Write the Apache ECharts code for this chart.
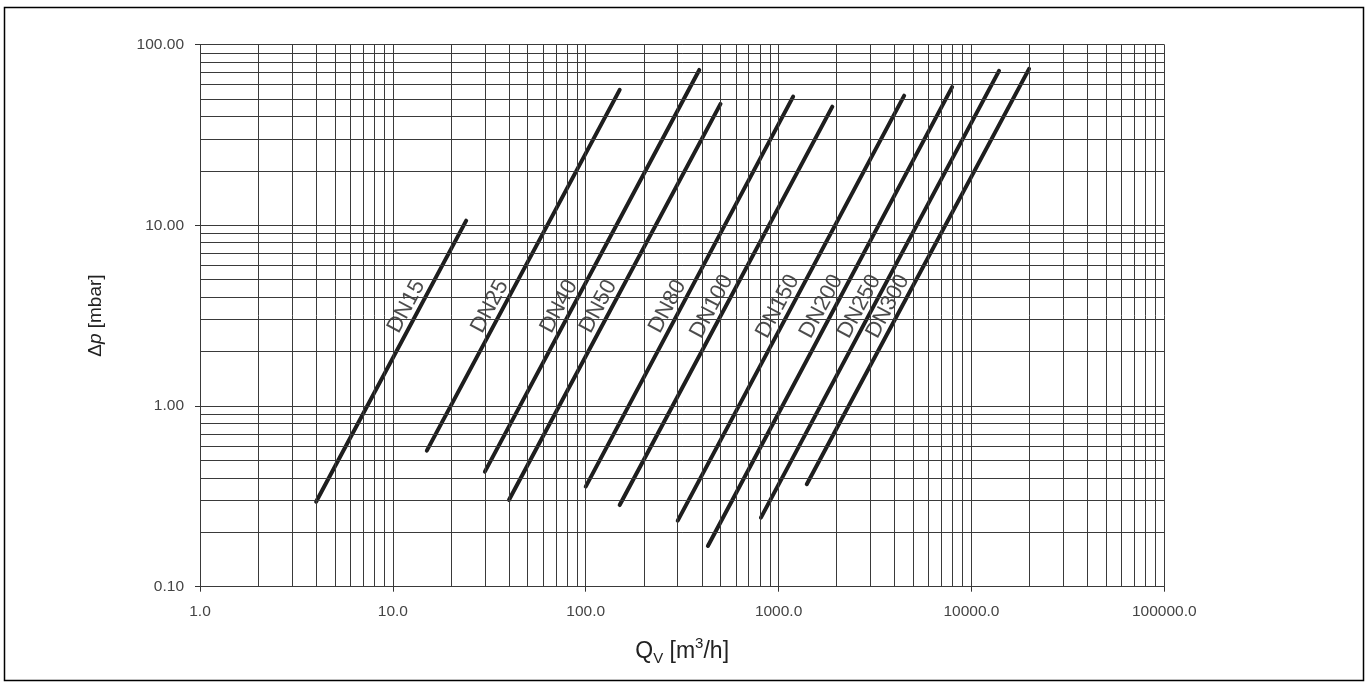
<!DOCTYPE html>
<html>
<head>
<meta charset="utf-8">
<script src="https://cdn.jsdelivr.net/npm/echarts@6/dist/echarts.min.js"></script>
<style>
html,body{margin:0;padding:0;background:#fff;}
#chart{width:1372px;height:688px;}
</style>
</head>
<body>
<div id="chart"></div>
<script>
// ---- data ----
const names   = ['DN15','DN25','DN40','DN50','DN80','DN100','DN150','DN200','DN250','DN300'];
const qStart  = [4,    15,    30,    40,    100,   150,   300,   430,   810,   1400];
const dpStart = [0.295,0.566, 0.433, 0.302, 0.358, 0.283, 0.232, 0.168, 0.241, 0.369];
const qEnd    = [24,   150,   388,   500,   1190,  1900,  4480,  7940,  13900, 19900];
const dpEnd   = [10.6, 56.1,  72.3,  46.9,  51.5,  45.3,  52.1,  58.1,  71.5,  73.3];
const xDecades = [1, 10, 100, 1000, 10000];
const yDecades = [0.1, 1, 10];
const mantissas = [1,2,3,4,5,6,7,8,9];
const labelDp = 3.55;

const FONT = '"Liberation Sans", Arial, Helvetica, sans-serif';
const GRID_COLOR = '#3a3a3a';

const gridX = [];
xDecades.forEach(d => mantissas.forEach(m => gridX.push(+(m*d).toPrecision(6))));
gridX.push(100000);
const gridY = [];
yDecades.forEach(d => mantissas.forEach(m => gridY.push(+(m*d).toPrecision(6))));
gridY.push(100);

const lineSeries = names.map((n, i) => ({
  name: n,
  type: 'line',
  data: [[qStart[i], dpStart[i]], [qEnd[i], dpEnd[i]]],
  symbol: 'none',
  z: 4,
  lineStyle: { color: '#1e1e1e', width: 4, cap: 'round' },
  silent: true,
  animation: false
}));

// label anchors along each line (slightly to the upper-left of it)
const labelData = names.map((n, i) => {
  const lqs = Math.log10(qStart[i]), lqe = Math.log10(qEnd[i]);
  const lds = Math.log10(dpStart[i]), lde = Math.log10(dpEnd[i]);
  const lq = lqs + (Math.log10(labelDp) - lds) * (lqe - lqs) / (lde - lds);
  return [Math.pow(10, lq) * 0.846, labelDp, n];
});

const option = {
  backgroundColor: '#fff',
  animation: false,
  grid: { left: 200, right: 207.7, top: 44.5, bottom: 101.3, containLabel: false },
  xAxis: {
    type: 'log', logBase: 10, min: 1, max: 100000,
    name: '{q|Q}{sub|V}{q| [m}{sup|3}{q|/h]}',
    nameLocation: 'middle', nameGap: 50,
    nameTextStyle: {
      rich: {
        q:   { fontFamily: FONT, fontSize: 23, color: '#222', lineHeight: 30, verticalAlign: 'middle' },
        sub: { fontFamily: FONT, fontSize: 15, color: '#222', lineHeight: 16, verticalAlign: 'bottom' },
        sup: { fontFamily: FONT, fontSize: 15, color: '#222', lineHeight: 16, verticalAlign: 'top' }
      }
    },
    axisLine: { show: true, lineStyle: { color: '#333', width: 1 } },
    axisTick: { show: true, length: 5, lineStyle: { color: '#333' } },
    axisLabel: { fontFamily: FONT, fontSize: 15.5, color: '#444', margin: 17,
      formatter: v => Number(v).toFixed(1) },
    splitLine: { show: false },
    minorTick: { show: false }
  },
  yAxis: {
    type: 'log', logBase: 10, min: 0.1, max: 100,
    name: '{a|Δ}{i|p}{a| [mbar]}',
    nameLocation: 'middle', nameGap: 95, nameRotate: 90,
    nameTextStyle: {
      rich: {
        a: { fontFamily: FONT, fontSize: 19, color: '#222' },
        i: { fontFamily: FONT, fontSize: 19, color: '#222', fontStyle: 'italic' }
      }
    },
    axisLine: { show: true, lineStyle: { color: '#333', width: 1 } },
    axisTick: { show: true, length: 5, lineStyle: { color: '#333' } },
    axisLabel: { fontFamily: FONT, fontSize: 15.5, color: '#444', margin: 16,
      formatter: v => Number(v).toFixed(2) },
    splitLine: { show: false }
  },
  graphic: [{
    type: 'rect', silent: true, z: 0,
    shape: { x: 4.5, y: 7.5, width: 1359, height: 673 },
    style: { fill: 'none', stroke: '#000', lineWidth: 1.5 }
  }],
  series: [
    {
      name: 'grid', type: 'line', data: [], z: 1, silent: true,
      markLine: {
        silent: true, symbol: ['none', 'none'], animation: false,
        label: { show: false },
        lineStyle: { type: 'solid', color: GRID_COLOR, width: 1 },
        emphasis: { disabled: true },
        data: gridX.map(v => ({ xAxis: v })).concat(gridY.map(v => ({ yAxis: v })))
      }
    },
    {
      name: 'labels', type: 'scatter', data: labelData, z: 3, silent: true,
      symbolSize: 1, itemStyle: { color: 'rgba(0,0,0,0)' },
      label: {
        show: true, position: 'inside', rotate: 62,
        formatter: p => p.data[2],
        fontFamily: FONT, fontSize: 22, color: '#1e1e1e',
        backgroundColor: '#fff', padding: [0, 2, 0, 2]
      }
    }
  ].concat(lineSeries)
};

const chart = echarts.init(document.getElementById('chart'), null, { renderer: 'canvas' });
chart.setOption(option);
</script>
</body>
</html>
